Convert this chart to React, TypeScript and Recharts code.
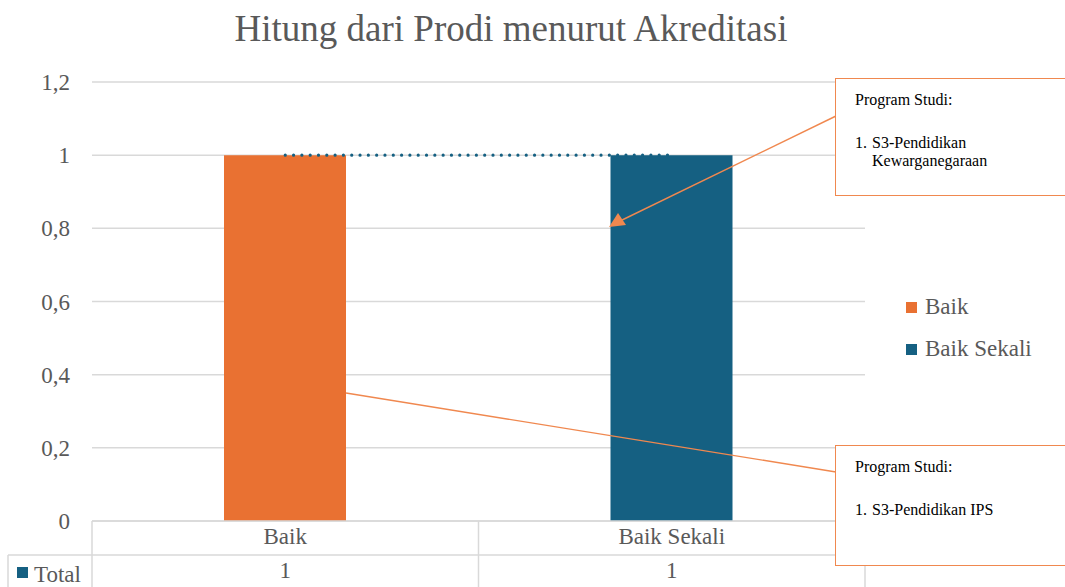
import { Bar, Cell, ComposedChart, CartesianGrid, Line, XAxis, YAxis } from "recharts"

const categories = ["Baik", "Baik Sekali"]
const totals = [1, 1]
const trend = [1, 1]
const yTicks = [0, 0.2, 0.4, 0.6, 0.8, 1, 1.2]
const colors = ["#E97132", "#156082"]

const data = categories.map((name, i) => ({ name, total: totals[i], trend: trend[i] }))

const W = 1065
const H = 587
const plotLeft = 92
const plotRight = 865
const plotTop = 82
const rowCat = 34
const rowVal = 32
const plotBottom = H - rowCat - rowVal

const font = '"Liberation Serif", "Times New Roman", serif'
const text = "#595959"
const grid = "#D9D9D9"
const calloutColor = "#F0884F"

const fmt = (v: number) => String(v).replace(".", ",")

function Callout({ top, height, lines }: { top: number; height: number; lines: string[] }) {
  return (
    <div
      style={{
        position: "absolute",
        left: 835,
        top,
        width: 240,
        height,
        border: `1.5px solid ${calloutColor}`,
        background: "#fff",
        boxSizing: "border-box",
        fontFamily: font,
        fontSize: 16,
        color: "#000",
        padding: "12px 0 0 19px",
        lineHeight: "18px",
      }}
    >
      <div>Program Studi:</div>
      <div style={{ marginTop: 25, display: "flex" }}>
        <span style={{ width: 17 }}>1.</span>
        <span>
          {lines.map((l) => (
            <div key={l}>{l}</div>
          ))}
        </span>
      </div>
    </div>
  )
}

export default function App() {
  const colW = (plotRight - plotLeft) / categories.length
  return (
    <div style={{ position: "absolute", left: 0, top: 0, width: W, height: H, background: "#fff", overflow: "hidden" }}>
      <div
        style={{
          position: "absolute",
          left: 0,
          top: 7,
          width: 1022,
          textAlign: "center",
          fontFamily: font,
          fontSize: 37,
          color: text,
        }}
      >
        Hitung dari Prodi menurut Akreditasi
      </div>

      <ComposedChart
        width={W}
        height={H}
        data={data}
        margin={{ top: plotTop, right: W - plotRight, bottom: 0, left: 0 }}
        style={{ position: "absolute", left: 0, top: 0, fontFamily: font }}
      >
        <CartesianGrid vertical={false} stroke={grid} strokeWidth={1.5} />
        <XAxis
          dataKey="name"
          height={rowCat}
          axisLine={{ stroke: grid, strokeWidth: 1.5 }}
          tickLine={false}
          tickSize={0}
          tickMargin={7}
          tick={{ fontSize: 23, fill: text, fontFamily: font }}
        />
        <XAxis
          xAxisId="table"
          dataKey="name"
          height={rowVal}
          axisLine={{ stroke: grid, strokeWidth: 1.5 }}
          tickLine={false}
          tickSize={0}
          tickMargin={7}
          tickFormatter={(_v: string, i: number) => fmt(totals[i])}
          tick={{ fontSize: 23, fill: text, fontFamily: font }}
        />
        <YAxis
          width={plotLeft}
          domain={[0, 1.2]}
          ticks={yTicks}
          interval={0}
          axisLine={false}
          tickLine={false}
          tickSize={6}
          tickMargin={16}
          tickFormatter={fmt}
          tick={{ fontSize: 23, fill: text, fontFamily: font }}
        />
        <Bar dataKey="total" barSize={122} isAnimationActive={false}>
          {data.map((d, i) => (
            <Cell key={d.name} fill={colors[i]} />
          ))}
        </Bar>
        <Line
          dataKey="trend"
          type="linear"
          stroke="#156082"
          strokeWidth={3.2}
          strokeDasharray="0.01 8.3"
          strokeLinecap="round"
          dot={false}
          activeDot={false}
          isAnimationActive={false}
        />
      </ComposedChart>

      <svg width={W} height={H} style={{ position: "absolute", left: 0, top: 0, pointerEvents: "none" }}>
        <g stroke={grid} strokeWidth={1.5}>
          {Array.from({ length: categories.length + 1 }, (_, i) => (
            <line
              key={i}
              x1={plotLeft + i * colW}
              x2={plotLeft + i * colW}
              y1={plotBottom}
              y2={H}
            />
          ))}
          <line x1={8} x2={plotLeft} y1={plotBottom + rowCat} y2={plotBottom + rowCat} />
          <line x1={8} x2={8} y1={plotBottom + rowCat} y2={H} />
        </g>
        <rect x={17} y={567} width={11} height={11} fill="#156082" />
        <text x={34} y={582} fontSize={23} fill={text} fontFamily={font}>
          Total
        </text>
        <g stroke={calloutColor} strokeWidth={1.4}>
          <line x1={836} y1={116} x2={618} y2={222} />
          <line x1={346} y1={393} x2={836} y2={472} />
        </g>
        <polygon points="609,227 618,213 626,225" fill={calloutColor} />
      </svg>

      <Callout top={78} height={118} lines={["S3-Pendidikan", "Kewarganegaraan"]} />
      <Callout top={445} height={121} lines={["S3-Pendidikan IPS"]} />

      <div style={{ position: "absolute", left: 906, top: 293, fontFamily: font, fontSize: 23, color: text }}>
        {categories.map((c, i) => (
          <div key={c} style={{ display: "flex", alignItems: "center", height: 28, marginBottom: 14 }}>
            <span style={{ width: 11, height: 11, background: colors[i], marginRight: 8 }} />
            {c}
          </div>
        ))}
      </div>
    </div>
  )
}
